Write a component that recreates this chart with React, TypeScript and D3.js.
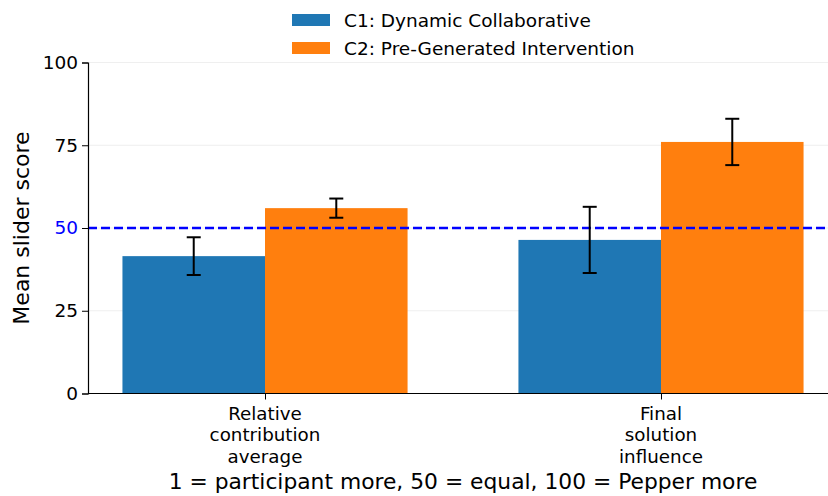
import React, { useEffect, useRef } from 'react'
import * as d3 from 'd3'

const categories = [['Relative', 'contribution', 'average'], ['Final', 'solution', 'influence']]
const seriesNames = ['C1: Dynamic Collaborative', 'C2: Pre-Generated Intervention']
const c1Means = [41.5, 46.4]
const c1Errors = [5.7, 10.0]
const c2Means = [56.0, 76.0]
const c2Errors = [2.9, 7.0]
const yTicks = [0, 25, 50, 75, 100]
const colors = ['#1f77b4', '#ff7f0e']

const W = 828
const H = 496

export default function App() {
  const ref = useRef<SVGSVGElement>(null)

  useEffect(() => {
    const svg = d3.select(ref.current)
    svg.selectAll('*').remove()
    const font = 'DejaVu Sans, sans-serif'

    const x = d3.scaleLinear().domain([-0.447, 1.447]).range([88, 838])
    const y = d3.scaleLinear().domain([0, 100]).range([393.5, 62.5])
    const barW = 0.36

    const g = svg.append('g')

    // grid
    g.selectAll('.grid').data(yTicks.filter(t => t > 0)).enter().append('line')
      .attr('x1', x(-0.447)).attr('x2', x(1.447))
      .attr('y1', d => y(d)).attr('y2', d => y(d))
      .attr('stroke', '#ebebeb').attr('stroke-width', 0.8)

    const series = [
      { means: c1Means, errs: c1Errors, off: -barW / 2, color: colors[0] },
      { means: c2Means, errs: c2Errors, off: barW / 2, color: colors[1] },
    ]

    series.forEach(s => {
      g.selectAll(null).data(s.means).enter().append('rect')
        .attr('x', (d, i) => x(i + s.off - barW / 2))
        .attr('width', x(barW) - x(0))
        .attr('y', d => y(d))
        .attr('height', d => y(0) - y(d))
        .attr('fill', s.color)
    })

    // reference line
    g.append('line')
      .attr('x1', x(-0.447)).attr('x2', x(1.447))
      .attr('y1', y(50)).attr('y2', y(50))
      .attr('stroke', '#0000ff').attr('stroke-width', 2.5).attr('stroke-dasharray', '9,4')

    series.forEach(s => {
      s.means.forEach((m, i) => {
        const cx = x(i + s.off)
        const eb = g.append('g').attr('stroke', '#000').attr('stroke-width', 2)
        eb.append('line').attr('x1', cx).attr('x2', cx).attr('y1', y(m + s.errs[i])).attr('y2', y(m - s.errs[i]))
        eb.append('line').attr('x1', cx - 7).attr('x2', cx + 7).attr('y1', y(m + s.errs[i])).attr('y2', y(m + s.errs[i]))
        eb.append('line').attr('x1', cx - 7).attr('x2', cx + 7).attr('y1', y(m - s.errs[i])).attr('y2', y(m - s.errs[i]))
      })
    })

    // axes
    const yAxis = g.append('g').attr('transform', `translate(${x(-0.447)},0)`)
      .call(d3.axisLeft(y).tickValues(yTicks).tickSize(6).tickPadding(4))
    yAxis.select('.domain').attr('stroke', '#000').attr('stroke-width', 1.2)
    yAxis.selectAll('.tick line').attr('stroke', '#000').attr('stroke-width', 1)
    yAxis.selectAll('.tick text')
      .attr('font-family', font).attr('font-size', 18.5)
      .attr('fill', (d: any) => (d === 50 ? '#0000ff' : '#000'))

    const xAxis = g.append('g').attr('transform', `translate(0,${y(0)})`)
      .call(d3.axisBottom(x).tickValues([0, 1]).tickSize(6).tickFormat(() => ''))
    xAxis.select('.domain').attr('stroke', '#000').attr('stroke-width', 1.2)
      .attr('d', `M${x(-0.447)},0H${x(1.447)}`)
    xAxis.selectAll('.tick line').attr('stroke', '#000')

    categories.forEach((lines, i) => {
      const t = g.append('text').attr('x', x(i)).attr('y', 420)
        .attr('text-anchor', 'middle').attr('font-family', font).attr('font-size', 18.3).attr('fill', '#000')
      lines.forEach((l, j) => {
        t.append('tspan').attr('x', x(i)).attr('dy', j === 0 ? 0 : 21.3).text(l)
      })
    })

    g.append('text').attr('x', x(0.5)).attr('y', 489)
      .attr('text-anchor', 'middle').attr('font-family', font).attr('font-size', 21.8).attr('fill', '#000')
      .text('1 = participant more, 50 = equal, 100 = Pepper more')

    g.append('text').attr('transform', `translate(29,${y(50)}) rotate(-90)`)
      .attr('text-anchor', 'middle').attr('font-family', font).attr('font-size', 22).attr('fill', '#000')
      .text('Mean slider score')

    // legend
    const leg = g.append('g')
    seriesNames.forEach((name, i) => {
      const ly = 20 + i * 28
      leg.append('rect').attr('x', 292).attr('y', ly - 6).attr('width', 38).attr('height', 12).attr('fill', colors[i])
      leg.append('text').attr('x', 344).attr('y', ly + 7)
        .attr('font-family', font).attr('font-size', 18.5).attr('fill', '#000').text(name)
    })
  }, [])

  return (
    <svg ref={ref} width={W} height={H}
      style={{ position: 'absolute', left: 0, top: 0, background: '#fff', display: 'block' }} />
  )
}
